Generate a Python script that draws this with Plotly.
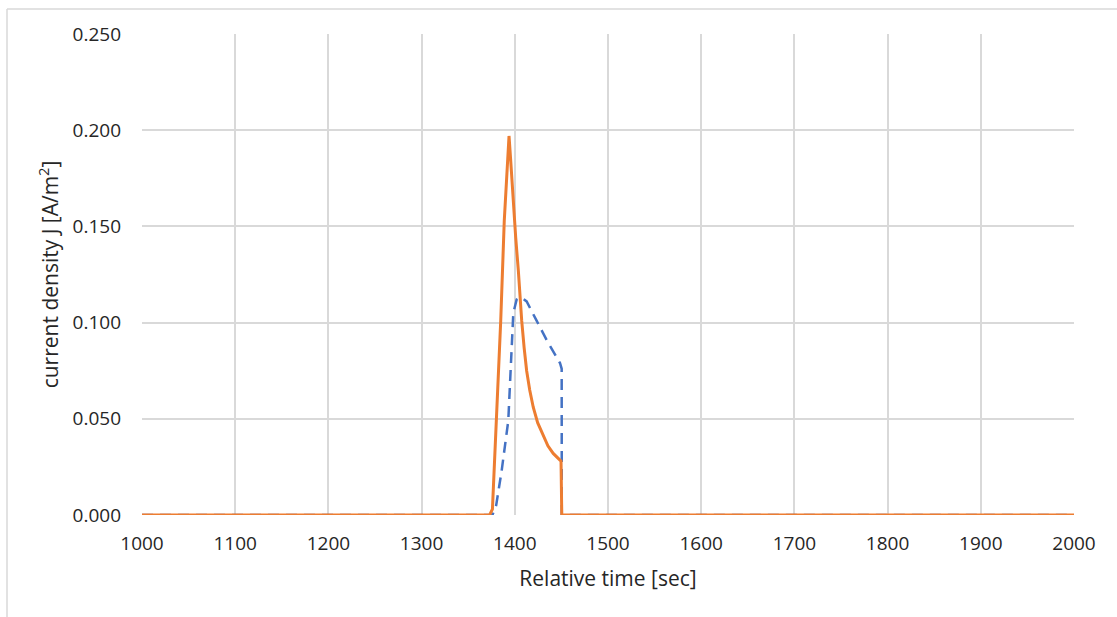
import plotly.graph_objects as go

# Orange series (solid)
time_orange = [1000, 1373, 1376, 1380.5, 1384.9, 1388.7, 1392, 1393.8, 1395.5, 1398.4,
               1401, 1403.8, 1405.5, 1407.4, 1410, 1412.7, 1416, 1419.8, 1424.5,
               1430.5, 1435.5, 1441.2, 1445.5, 1449.6, 1450.4, 2000]
j_orange = [0, 0, 0.003, 0.049, 0.101, 0.153, 0.185, 0.197, 0.185, 0.162,
            0.144, 0.127, 0.114, 0.101, 0.087, 0.075, 0.065, 0.056, 0.048,
            0.041, 0.036, 0.032, 0.030, 0.028, 0, 0]

# Blue series (dashed)
time_blue = [1000, 1376, 1380, 1385.9, 1393, 1396.7, 1398.4, 1402, 1405.6, 1408.5,
             1412.7, 1423.4, 1434.1, 1448.5, 1450.3, 1450.4, 2000]
j_blue = [0, 0, 0.005, 0.023, 0.049, 0.084, 0.105, 0.112, 0.113, 0.1125,
          0.111, 0.101, 0.091, 0.079, 0.076, 0, 0]

x_ticks = [1000, 1100, 1200, 1300, 1400, 1500, 1600, 1700, 1800, 1900, 2000]
y_ticks = [0, 0.05, 0.10, 0.15, 0.20, 0.25]

W, H = 1117, 617
L, R, T, B = 142, 43, 34, 102
pw, ph = W - L - R, H - T - B

def px(xp):
    return (xp - L) / pw

def py(yp):
    return (H - B - yp) / ph

fig = go.Figure()
fig.add_trace(go.Scatter(x=time_blue, y=j_blue, mode="lines",
                         line=dict(color="#4472C4", width=2.5, dash="11px,7px"),
                         showlegend=False))
fig.add_trace(go.Scatter(x=time_orange, y=j_orange, mode="lines",
                         line=dict(color="#ED7D31", width=3),
                         showlegend=False))

tick_font = dict(family="Open Sans, sans-serif", size=19, color="#262626")
title_font = dict(family="Open Sans, sans-serif", size=21, color="#262626")

fig.update_layout(
    width=W, height=H,
    margin=dict(l=L, r=R, t=T, b=B, autoexpand=False),
    paper_bgcolor="white", plot_bgcolor="white",
    font=tick_font,
    xaxis=dict(range=[1000, 2000], tickvals=x_ticks, ticktext=[str(v) for v in x_ticks],
               showgrid=True, gridcolor="#d9d9d9", gridwidth=1.5, zeroline=False,
               showline=False, ticks="", ticklabelstandoff=15, tickfont=tick_font,
               title=dict(text="Relative time [sec]", font=title_font, standoff=16)),
    yaxis=dict(range=[0, 0.25], tickvals=y_ticks, ticktext=[f"{v:.3f}" for v in y_ticks],
               showgrid=True, gridcolor="#d9d9d9", gridwidth=1.5, zeroline=False,
               showline=False, ticks="", ticklabelstandoff=20, tickfont=tick_font,
               title=dict(text="current density J [A/m<sup>2</sup>]", font=title_font, standoff=8)),
    shapes=[
        dict(type="line", xref="paper", yref="paper", x0=px(7), x1=px(1117), y0=py(9), y1=py(9),
             line=dict(color="#d9d9d9", width=1.5)),
        dict(type="line", xref="paper", yref="paper", x0=px(7), x1=px(7), y0=py(9), y1=py(617),
             line=dict(color="#d9d9d9", width=1.5)),
    ],
)

fig.write_html("out.html", config={"displayModeBar": False},
               post_script="document.body.style.margin='0';document.body.style.overflow='hidden';")
